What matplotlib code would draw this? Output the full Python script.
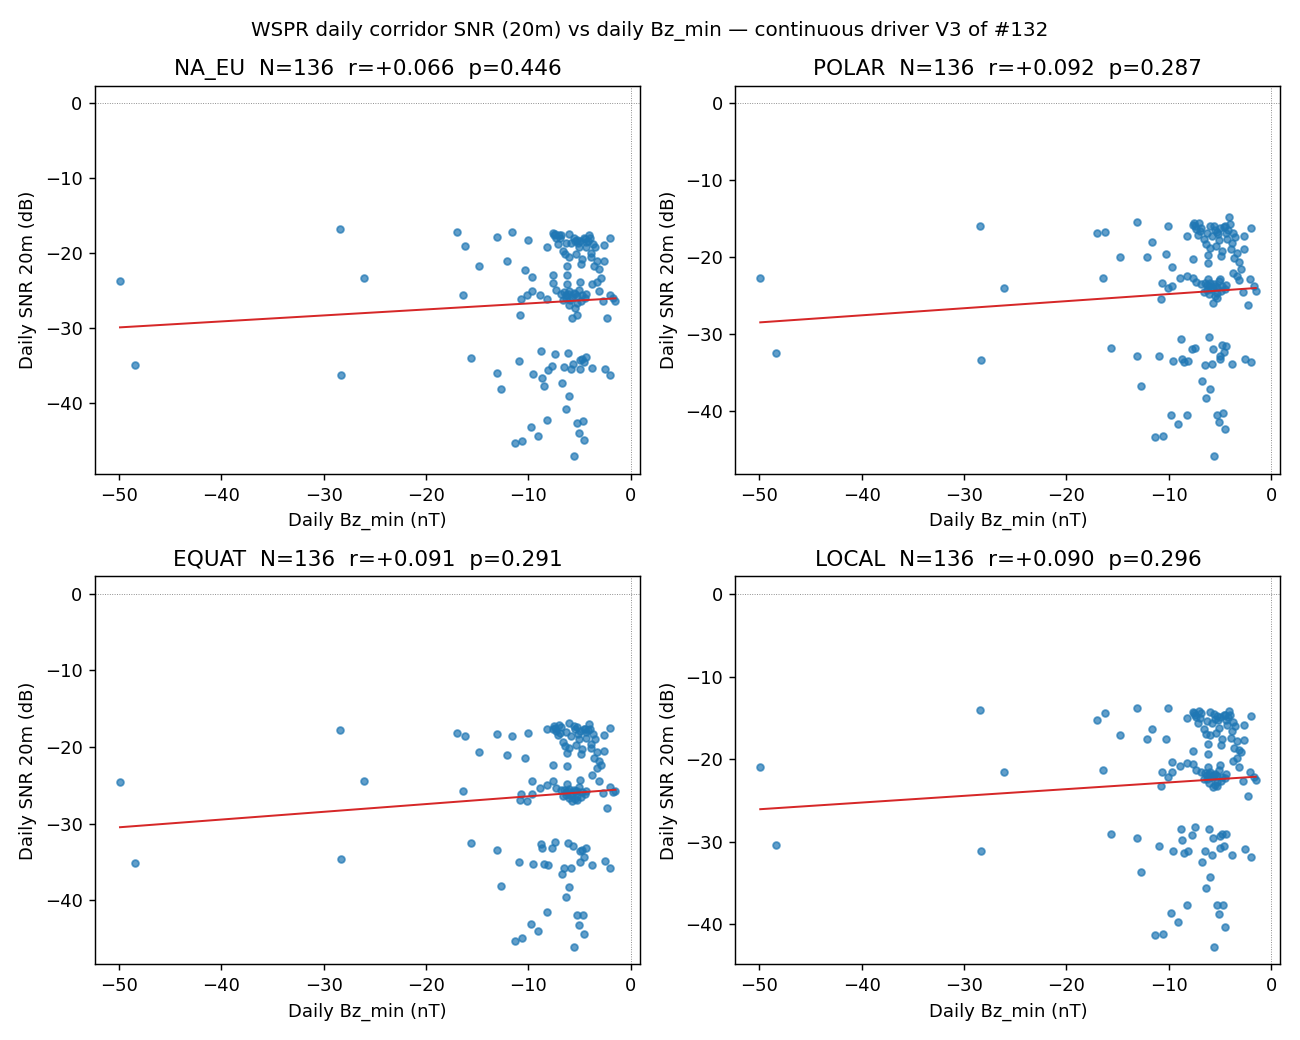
import numpy as np
import matplotlib
matplotlib.use("Agg")
import matplotlib.pyplot as plt

# Shared daily Bz_min (nT)
bz_min = [
    # lower cluster days
    -48.4, -28.3, -15.6, -13.1, -12.7, -10.95, -11.3, -10.6, -9.75, -9.1,
    -9.55, -8.8, -8.7, -8.5, -8.2, -8.1, -7.7, -7.4, -6.7, -6.5,
    -6.35, -6.1, -6.0, -5.8, -5.65, -5.55, -5.25, -5.05, -4.95, -4.95,
    -4.8, -4.7, -4.6, -4.55, -4.4, -3.8, -2.55, -2.0,
    # sparse upper/middle days
    -49.9, -28.4, -26.1, -17.0, -16.2, -16.4, -14.8, -13.1, -11.6, -12.1,
    -10.8, -10.7, -10.05, -10.3, -9.65, -10.1, -9.65, -8.9, -8.2, -8.2,
    # dense upper days
    -7.6, -7.5, -7.3, -7.4, -6.9, -7.1, -6.6, -6.4, -6.0, -6.3,
    -5.8, -5.5, -5.3, -5.0, -4.5, -4.2, -4.1, -3.7, -3.5, -3.85,
    -3.9, -2.6, -2.0, -4.35, -5.1, -5.4, -6.0, -6.2, -4.8, -4.85,
    -3.6, -3.3, -2.6, -3.1, -6.2, -7.65, -4.6, -5.6, -6.8, -4.0,
    -7.0, -5.2, -4.4,
    # dense middle days
    -2.9, -3.35, -3.75, -3.1, -7.65, -7.35, -6.2, -5.0, -6.5, -6.3,
    -6.0, -5.7, -5.5, -6.3, -5.3, -4.75, -4.5, -6.05, -5.3, -5.5,
    -5.7, -5.3, -2.7, -2.05, -1.7, -1.5, -2.3, -6.8, -5.9, -4.9,
    -6.6, -5.1, -5.6, -4.4, -6.1,
]

snr_na_eu = [
    -34.9, -36.2, -34.0, -36.0, -38.1, -34.4, -45.3, -45.0, -43.2, -44.4,
    -36.1, -33.1, -36.6, -37.7, -42.3, -35.6, -35.0, -33.4, -37.3, -35.2,
    -40.8, -33.3, -39.1, -35.5, -34.8, -47.1, -42.6, -44.0, -35.4, -34.3,
    -34.1, -42.4, -34.5, -44.9, -33.8, -35.3, -35.4, -36.2,
    -23.7, -16.7, -23.3, -17.1, -19.0, -25.6, -21.7, -17.8, -17.1, -21.0,
    -28.2, -26.1, -18.2, -22.2, -23.2, -25.6, -25.0, -25.6, -19.1, -26.1,
    -17.3, -17.6, -17.9, -17.4, -18.0, -18.7, -19.7, -20.1, -17.4, -18.6,
    -18.6, -18.3, -18.2, -18.3, -18.1, -18.3, -17.5, -18.7, -19.2, -19.9,
    -20.5, -18.9, -17.9, -19.2, -19.2, -20.1, -20.5, -21.7, -20.8, -21.5,
    -21.7, -21.0, -21.0, -22.1, -22.9, -22.9, -18.0, -17.9, -17.6, -18.0,
    -17.5, -18.6, -18.5,
    -23.3, -23.8, -24.1, -25.1, -24.0, -24.9, -24.1, -23.8, -25.2, -25.6,
    -25.0, -25.9, -25.4, -26.0, -25.7, -25.6, -26.0, -26.9, -26.6, -27.3,
    -28.6, -28.3, -26.4, -25.6, -26.0, -26.4, -28.6, -25.5, -26.2, -26.4,
    -26.3, -24.9, -25.3, -25.5, -25.5,
]

snr_polar = [
    -32.5, -33.4, -31.8, -32.8, -36.7, -32.8, -43.4, -43.3, -40.5, -41.7,
    -33.5, -30.6, -33.2, -33.7, -40.5, -33.5, -32.0, -31.8, -36.1, -34.0,
    -38.3, -30.4, -37.1, -33.9, -32.0, -45.9, -40.5, -41.5, -33.3, -32.8,
    -31.4, -40.3, -32.3, -42.4, -31.5, -33.9, -33.2, -33.6,
    -22.7, -16.0, -24.0, -16.8, -16.7, -22.7, -20.0, -15.4, -18.0, -20.0,
    -25.5, -23.4, -15.9, -19.6, -21.3, -24.0, -23.8, -22.7, -17.2, -22.4,
    -15.8, -15.5, -16.3, -16.0, -16.6, -17.1, -17.6, -18.3, -16.0, -16.9,
    -17.2, -16.5, -16.7, -16.2, -16.0, -16.4, -14.8, -16.9, -17.4, -18.1,
    -19.0, -17.3, -16.2, -17.6, -17.8, -18.6, -18.8, -19.7, -19.2, -19.8,
    -20.1, -19.4, -19.0, -20.6, -20.8, -20.3, -16.1, -15.9, -16.2, -15.7,
    -15.6, -17.0, -16.8,
    -21.6, -22.5, -22.0, -23.0, -22.7, -23.2, -22.9, -22.8, -23.4, -23.6,
    -23.3, -24.0, -23.7, -24.3, -23.9, -23.8, -24.2, -24.8, -24.6, -25.0,
    -25.9, -25.3, -24.5, -22.9, -23.7, -24.4, -26.2, -23.5, -24.1, -24.4,
    -24.5, -23.1, -23.5, -23.6, -23.8,
]

snr_equat = [
    -35.1, -34.6, -32.6, -33.5, -38.1, -35.0, -45.3, -44.9, -43.1, -44.0,
    -35.3, -32.7, -33.2, -35.3, -41.6, -35.4, -33.2, -32.4, -36.6, -35.8,
    -39.6, -32.5, -38.3, -35.8, -32.9, -46.1, -42.0, -43.3, -35.0, -33.6,
    -33.5, -42.0, -34.4, -44.4, -33.2, -35.4, -34.9, -35.8,
    -24.6, -17.8, -24.5, -18.2, -18.6, -25.8, -20.6, -18.3, -18.6, -21.0,
    -26.9, -26.1, -18.2, -21.5, -24.4, -27.0, -26.2, -25.4, -17.7, -25.0,
    -17.6, -17.2, -17.9, -17.5, -18.2, -18.4, -19.3, -19.9, -16.9, -18.1,
    -18.5, -17.7, -17.4, -17.9, -17.6, -17.8, -17.0, -18.3, -18.9, -19.6,
    -20.1, -18.4, -17.5, -18.8, -18.9, -19.8, -20.1, -20.8, -20.3, -20.9,
    -21.4, -20.6, -20.5, -21.8, -22.5, -22.4, -17.6, -17.3, -17.4, -17.7,
    -17.1, -18.3, -18.1,
    -22.4, -22.8, -23.6, -24.5, -24.4, -25.3, -24.8, -24.3, -25.6, -25.9,
    -25.5, -26.1, -25.7, -26.3, -25.8, -25.9, -26.2, -26.6, -26.4, -26.8,
    -27.0, -26.9, -26.0, -25.2, -25.9, -25.7, -28.0, -25.6, -26.3, -26.5,
    -26.4, -25.2, -25.6, -25.7, -25.8,
]

snr_local = [
    -30.4, -31.1, -29.1, -29.5, -33.6, -30.5, -41.3, -41.1, -38.6, -39.7,
    -31.1, -28.5, -29.8, -31.4, -37.6, -31.1, -29.2, -28.2, -32.4, -31.1,
    -35.6, -28.5, -34.3, -31.6, -29.5, -42.7, -37.7, -38.7, -30.8, -29.3,
    -29.1, -37.6, -30.5, -40.3, -29.1, -31.6, -30.9, -31.8,
    -20.9, -14.1, -21.6, -15.3, -14.4, -21.3, -17.1, -13.8, -16.4, -17.5,
    -23.2, -21.6, -13.8, -17.6, -20.3, -22.2, -21.6, -20.8, -15.0, -20.5,
    -14.3, -14.4, -14.9, -14.6, -15.0, -15.6, -16.4, -17.0, -14.3, -15.4,
    -15.6, -15.1, -14.8, -14.9, -14.6, -14.9, -14.2, -15.5, -16.0, -16.6,
    -17.4, -15.8, -14.8, -15.9, -16.2, -16.8, -17.1, -18.2, -17.5, -18.3,
    -18.6, -17.8, -17.7, -18.9, -19.4, -19.0, -14.7, -14.5, -14.4, -14.6,
    -14.2, -15.3, -15.2,
    -19.1, -19.8, -20.2, -21.0, -20.6, -21.3, -20.9, -20.7, -21.7, -21.9,
    -21.5, -22.2, -21.8, -22.4, -22.0, -22.1, -22.3, -22.9, -22.7, -23.1,
    -23.4, -23.3, -22.6, -21.6, -22.1, -22.5, -24.5, -21.6, -22.2, -22.6,
    -22.4, -21.3, -21.9, -21.8, -21.8,
]

corridors = ["NA_EU", "POLAR", "EQUAT", "LOCAL"]
r_values = ["+0.066", "+0.092", "+0.091", "+0.090"]
p_values = ["0.446", "0.287", "0.291", "0.296"]
series = [snr_na_eu, snr_polar, snr_equat, snr_local]

fig, axes = plt.subplots(2, 2, figsize=(10, 8), dpi=130)
x = np.array(bz_min)
for ax, name, ys, r, p in zip(axes.flat, corridors, series, r_values, p_values):
    y = np.array(ys)
    ax.scatter(x, y, s=14, alpha=0.7, color="tab:blue")
    m, b = np.polyfit(x, y, 1)
    xs = np.array([x.min(), x.max()])
    ax.plot(xs, m * xs + b, color="tab:red", lw=1.1)
    ax.axhline(0, color="gray", lw=0.5, ls=":")
    ax.axvline(0, color="gray", lw=0.5, ls=":")
    ax.set_title(f"{name}  N={len(y)}  r={r}  p={p}", fontsize=12)
    ax.set_xlabel("Daily Bz_min (nT)")
    ax.set_ylabel("Daily SNR 20m (dB)")

fig.suptitle("WSPR daily corridor SNR (20m) vs daily Bz_min \u2014 continuous driver V3 of #132", fontsize=11)
fig.tight_layout()
fig.savefig("out.png", dpi=130)
